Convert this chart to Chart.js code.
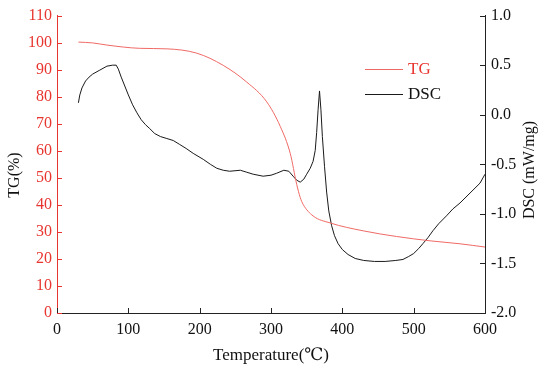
<!DOCTYPE html>
<html>
<head>
<meta charset="utf-8">
<script src="https://cdn.jsdelivr.net/npm/chart.js@4"></script>
<style>
    body { margin: 0; background: #ffffff; }
    #box { width: 550px; height: 370px; }
</style>
</head>
<body>
<div id="box"><canvas id="tgChart"></canvas></div>
<script>
// Datos TG (%)
const tgTemp = [30, 50, 70, 116, 154, 196, 233, 266, 294, 313, 327, 336, 341, 345, 359, 383, 429, 476, 523, 565, 600];
const tgValue = [100.2, 99.9, 99.1, 97.9, 97.7, 96.1, 91.6, 85.4, 78.1, 69.0, 59.0, 47.6, 42.7, 40.2, 35.9, 33.3, 30.4, 28.3, 26.7, 25.6, 24.4];

// Datos DSC (mW/mg)
const dscTemp = [30, 32, 35, 40, 45, 50, 60, 70, 78, 83, 86, 90, 95, 100, 106, 112, 118, 124, 130, 137, 145, 154, 163, 172, 181, 191, 205, 215, 224, 233, 242, 257, 266, 275, 289, 300, 308, 318, 325, 331, 336, 341, 346, 350, 355, 359, 362, 364, 366, 368, 370, 372, 375, 378, 381, 385, 389, 394, 400, 408, 418, 430, 445, 460, 475, 485, 493, 500, 507, 513, 520, 527, 535, 546, 555, 565, 579, 593, 600];
const dscValue = [0.12, 0.20, 0.27, 0.34, 0.38, 0.41, 0.45, 0.49, 0.50, 0.50, 0.46, 0.38, 0.29, 0.20, 0.10, 0.02, -0.05, -0.10, -0.14, -0.19, -0.22, -0.24, -0.26, -0.30, -0.34, -0.39, -0.45, -0.50, -0.54, -0.56, -0.57, -0.56, -0.58, -0.60, -0.62, -0.61, -0.59, -0.56, -0.57, -0.62, -0.66, -0.68, -0.65, -0.60, -0.54, -0.47, -0.36, -0.18, 0.05, 0.24, 0.05, -0.22, -0.52, -0.78, -0.97, -1.12, -1.22, -1.30, -1.36, -1.41, -1.45, -1.47, -1.48, -1.48, -1.47, -1.46, -1.43, -1.40, -1.35, -1.30, -1.24, -1.17, -1.10, -1.02, -0.95, -0.89, -0.79, -0.69, -0.60];

const serif = '"Liberation Serif", "DejaVu Serif", serif';
const red = '#e8352f';

const toPoints = (xs, ys) => xs.map((x, i) => ({ x: x, y: ys[i] }));

// Titulo vertical (lectura de abajo hacia arriba)
const drawVTitle = (c, text, x, y) => {
    c.save();
    c.fillStyle = '#111111';
    c.font = '16px ' + serif;
    c.textAlign = 'center';
    c.textBaseline = 'middle';
    c.translate(x, y);
    c.rotate(-Math.PI / 2);
    c.fillText(text, 0, 0);
    c.restore();
};

// Marcas hacia adentro, titulos y leyenda
const decoPlugin = {
    id: 'deco',
    afterDraw(chart) {
        const c = chart.ctx;
        const area = chart.chartArea;
        const sx = chart.scales.x;
        const sl = chart.scales.yTG;
        const sr = chart.scales.yDSC;
        const len = 5;

        c.save();
        c.lineWidth = 1;

        c.strokeStyle = '#222222';
        sx.ticks.forEach(t => {
            const px = Math.round(sx.getPixelForValue(t.value)) + 0.5;
            c.beginPath();
            c.moveTo(px, area.bottom);
            c.lineTo(px, area.bottom - len);
            c.stroke();
        });

        c.strokeStyle = red;
        sl.ticks.forEach(t => {
            const py = Math.round(sl.getPixelForValue(t.value)) + 0.5;
            c.beginPath();
            c.moveTo(area.left, py);
            c.lineTo(area.left + len, py);
            c.stroke();
        });

        c.strokeStyle = '#222222';
        sr.ticks.forEach(t => {
            const py = Math.round(sr.getPixelForValue(t.value)) + 0.5;
            c.beginPath();
            c.moveTo(area.right, py);
            c.lineTo(area.right - len, py);
            c.stroke();
        });
        c.restore();

        drawVTitle(c, 'TG(%)', 15, 175);
        drawVTitle(c, 'DSC (mW/mg)', 530, 170);

        // leyenda
        c.save();
        c.font = '17px ' + serif;
        c.textBaseline = 'middle';
        c.textAlign = 'left';
        chart.data.datasets.forEach((ds, i) => {
            const y = 69 + i * 25 + 0.5;
            c.strokeStyle = ds.borderColor;
            c.lineWidth = 1;
            c.beginPath();
            c.moveTo(365, y);
            c.lineTo(403, y);
            c.stroke();
            c.fillStyle = i === 0 ? red : '#111111';
            c.fillText(ds.label, 408, y);
        });
        c.restore();
    }
};

const ctx = document.getElementById('tgChart');

new Chart(ctx, {
    type: 'line',
    data: {
        datasets: [{
            label: 'TG',
            data: toPoints(tgTemp, tgValue),
            yAxisID: 'yTG',
            borderColor: '#ef6a66',
            borderWidth: 1,
            pointRadius: 0,
            cubicInterpolationMode: 'monotone'
        }, {
            label: 'DSC',
            data: toPoints(dscTemp, dscValue),
            yAxisID: 'yDSC',
            borderColor: '#1a1a1a',
            borderWidth: 1,
            pointRadius: 0,
            tension: 0
        }]
    },
    options: {
        responsive: true,
        maintainAspectRatio: false,
        animation: false,
        layout: { padding: { top: 13, left: 0, right: 0, bottom: 0 } },
        plugins: {
            legend: { display: false },
            tooltip: { enabled: false }
        },
        scales: {
            x: {
                type: 'linear',
                min: 0,
                max: 600,
                afterFit: s => { s.height = 57; },
                grid: { drawOnChartArea: false, drawTicks: false },
                border: { color: '#222222', width: 1 },
                ticks: { stepSize: 100, padding: 7, color: '#111111', font: { family: serif, size: 16 } },
                title: { display: true, text: 'Temperature(℃)', color: '#111111', font: { family: serif, size: 17 }, padding: { top: 0, bottom: 4 } }
            },
            yTG: {
                position: 'left',
                min: 0,
                max: 110,
                afterFit: s => { s.width = 57; },
                grid: { drawOnChartArea: false, drawTicks: false },
                border: { color: red, width: 1 },
                ticks: { stepSize: 10, padding: 5, color: red, font: { family: serif, size: 16 } }
            },
            yDSC: {
                position: 'right',
                min: -2,
                max: 1,
                afterFit: s => { s.width = 65; },
                grid: { drawOnChartArea: false, drawTicks: false },
                border: { color: '#222222', width: 1 },
                ticks: { stepSize: 0.5, padding: 6, color: '#111111', font: { family: serif, size: 16 }, callback: v => v.toFixed(1) }
            }
        }
    },
    plugins: [decoPlugin]
});
</script>
</body>
</html>
